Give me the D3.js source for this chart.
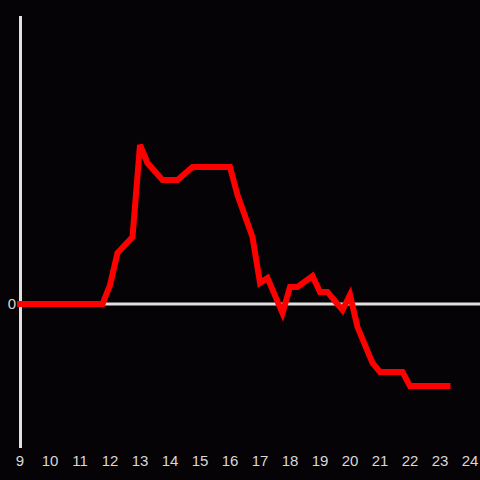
<!DOCTYPE html>
<html><head><meta charset="utf-8">
<script src="https://cdn.jsdelivr.net/npm/d3@7"></script>
<style>html,body{margin:0;padding:0;background:#050305;}svg{display:block;}</style>
</head><body>
<script>
const hours = [9, 11.75, 12, 12.25, 12.75, 13, 13.25, 13.75, 14.25, 14.75, 16, 16.25, 16.75, 17, 17.25, 17.75, 18, 18.25, 18.75, 19, 19.25, 19.75, 20, 20.25, 20.75, 21, 21.75, 22, 23.25];
const values = [0, 0, 13.2, 35.4, 46.5, 110.4, 97.9, 86.1, 86.1, 95.1, 95.1, 75.7, 46.5, 14.6, 18.1, -6.3, 11.8, 11.8, 19.4, 8.3, 8.3, -4.2, 6.3, -16, -41, -47.2, -47.2, -57, -57];
const xTicks = [9,10,11,12,13,14,15,16,17,18,19,20,21,22,23,24];
const yTicks = [0];

const W = 480, H = 480;
const svg = d3.select("body").append("svg").attr("width", W).attr("height", H);
svg.append("rect").attr("width", W).attr("height", H).attr("fill", "#050305");

const x = d3.scaleLinear().domain([9, 24]).range([20, 470]);
const y = d3.scaleLinear().domain([-100, 200]).range([448, 16]);
const axisColor = "#e0e0e0";
const textColor = "#d8d8d8";

// y axis line
svg.append("line").attr("x1", 20.5).attr("x2", 20.5).attr("y1", y(200)).attr("y2", y(-100))
  .attr("stroke", axisColor).attr("stroke-width", 3);
// zero line
svg.append("line").attr("x1", 20).attr("x2", 480).attr("y1", y(0)).attr("y2", y(0))
  .attr("stroke", axisColor).attr("stroke-width", 3);

// x tick labels
svg.selectAll("text.xt").data(xTicks).enter().append("text")
  .attr("x", d => x(d)).attr("y", 461).attr("dy", "0.35em")
  .attr("text-anchor", "middle").attr("fill", textColor)
  .attr("font-family", "Liberation Sans, Arial, sans-serif").attr("font-size", 15)
  .text(d => d);
// y tick labels
svg.selectAll("text.yt").data(yTicks).enter().append("text")
  .attr("x", 16).attr("y", d => y(d)).attr("dy", "0.35em")
  .attr("text-anchor", "end").attr("fill", textColor)
  .attr("font-family", "Liberation Sans, Arial, sans-serif").attr("font-size", 15)
  .text(d => d);

const data = hours.map((h, i) => [h, values[i]]);
svg.append("path").datum(data)
  .attr("d", d3.line().x(d => x(d[0])).y(d => y(d[1])))
  .attr("fill", "none").attr("stroke", "#ff0000").attr("stroke-width", 6)
  .attr("stroke-linecap", "square");
</script>
</body></html>
